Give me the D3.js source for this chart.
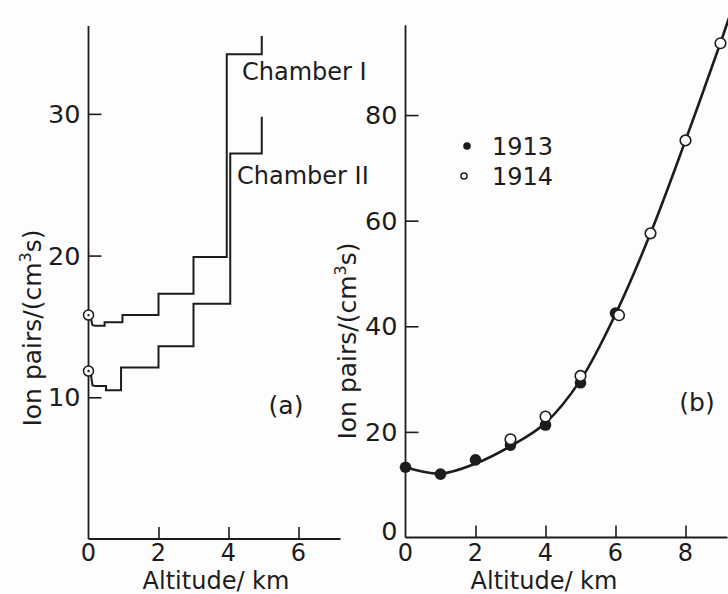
<!DOCTYPE html>
<html>
<head>
<meta charset="utf-8">
<script src="https://cdn.jsdelivr.net/npm/d3@7/dist/d3.min.js"></script>
<style>
  html, body { margin: 0; padding: 0; background: #fdfdfd; }
  svg { display: block; }
  text { font-family: "DejaVu Sans", sans-serif; fill: #1c1c1c; }
</style>
</head>
<body>
<svg id="chart" width="728" height="594"></svg>
<script>
// ---------- Data ----------
// Panel (a): step curves for the two ionisation chambers
const ticksA_y = [10, 20, 30];
const ticksA_x = [2, 4, 6];
const chamber1Start = 15.8;           // value at ground (circle marker)
const chamber1Edges = [0.2, 0.46, 0.97, 2, 3, 3.95, 4.95];
const chamber1Values = [15.05, 15.3, 15.8, 17.3, 19.9, 34.2];
const chamber1End = 35.5;
const chamber2Start = 11.85;
const chamber2Edges = [0.2, 0.5, 0.93, 2, 3, 4.05, 4.95];
const chamber2Values = [10.8, 10.5, 12.1, 13.6, 16.6, 27.2];
const chamber2End = 29.8;

// Panel (b): measured points and fitted curve
const ticksB_y = [20, 40, 60, 80];
const ticksB_x = [2, 4, 6, 8];
const alt1913 = [0, 1, 2, 3, 4, 5, 6];
const ion1913 = [13.3, 12.0, 14.7, 17.5, 21.3, 29.3, 42.5];
const alt1914 = [3, 4, 5, 6.1, 7, 8, 9];
const ion1914 = [18.6, 22.9, 30.6, 42.1, 57.6, 75.2, 93.6];
const curveAlt = [0, 1, 2, 3, 4, 5, 6, 7, 8, 9, 9.35];
const curveIon = [13.3, 12.1, 14.0, 17.3, 21.7, 29.8, 42.3, 57.6, 75.2, 93.7, 100.5];

// ---------- Drawing ----------
const svg = d3.select("#chart");
const ink = "#1c1c1c";

// Scales panel (a)
const xA = d3.scaleLinear().domain([0, 7.2]).range([88.5, 340.5]);
const yA = d3.scaleLinear().domain([0, 36.2]).range([539, 26]);
// Scales panel (b)
const xB = d3.scaleLinear().domain([0, 9.2]).range([405.5, 727.5]);
const yB = d3.scaleLinear().domain([0, 97]).range([537.5, 25.3]);

function drawAxes(g, x, y, yTicks, yTop, xEnd) {
  g.append("line").attr("x1", x(0)).attr("x2", x(0)).attr("y1", y(yTop)).attr("y2", y(0))
    .attr("stroke", ink).attr("stroke-width", 1.8);
  g.append("line").attr("x1", x(0)).attr("x2", x(xEnd)).attr("y1", y(0)).attr("y2", y(0))
    .attr("stroke", ink).attr("stroke-width", 1.8);
  const ya = d3.axisRight(y).tickValues(yTicks).tickSize(13).tickFormat("");
  const yg = g.append("g").attr("transform", `translate(${x(0)},0)`).call(ya);
  yg.select(".domain").remove();
  yg.selectAll(".tick line").attr("stroke", ink).attr("stroke-width", 1.6);
  yTicks.forEach(v => {
    g.append("text").attr("x", x(0) - 8).attr("y", y(v)).attr("dy", "0.36em")
      .attr("text-anchor", "end").attr("font-size", 25.5).text(v);
  });
}

function xAxisTicks(g, x, y, xTicks) {
  const xa = d3.axisTop(x).tickValues(xTicks).tickSize(12).tickFormat("");
  const xg = g.append("g").attr("transform", `translate(0,${y(0)})`).call(xa);
  xg.select(".domain").remove();
  xg.selectAll(".tick line").attr("stroke", ink).attr("stroke-width", 1.6);
  [0].concat(xTicks).forEach(v => {
    g.append("text").attr("x", x(v)).attr("y", 561)
      .attr("text-anchor", "middle").attr("font-size", 24).text(v);
  });
}

function yLabel(g, cx, cy) {
  const t = g.append("text").attr("transform", `translate(${cx},${cy}) rotate(-90)`)
    .attr("text-anchor", "middle").attr("font-size", 25);
  t.append("tspan").text("Ion pairs/(cm");
  t.append("tspan").attr("dy", -10).attr("font-size", 16).text("3");
  t.append("tspan").attr("dy", 10).text("s)");
}

// ----- Panel (a) -----
const gA = svg.append("g");
drawAxes(gA, xA, yA, ticksA_y, 36.2, 7.2);
xAxisTicks(gA, xA, yA, ticksA_x);
gA.append("text").attr("x", 216).attr("y", 589).attr("text-anchor", "middle")
  .attr("font-size", 24).text("Altitude/ km");
yLabel(gA, 41, 328);
gA.append("text").attr("x", 286).attr("y", 405).attr("dy", "0.36em")
  .attr("text-anchor", "middle").attr("font-size", 25).text("(a)");

function stepPath(start, edges, values, end) {
  const pts = [];
  pts.push([xA(0) + 2.5, yA(start) + 4]);
  pts.push([xA(edges[0]) - 3, yA(values[0]) - 0.5]);
  pts.push([xA(edges[0]), yA(values[0])]);
  for (let i = 0; i < values.length; i++) {
    pts.push([xA(edges[i + 1]), yA(values[i])]);
    const next = i + 1 < values.length ? values[i + 1] : end;
    pts.push([xA(edges[i + 1]), yA(next)]);
  }
  return d3.line().curve(d3.curveLinear)(pts);
}
[[chamber1Start, chamber1Edges, chamber1Values, chamber1End],
 [chamber2Start, chamber2Edges, chamber2Values, chamber2End]].forEach(([s, e, v, end]) => {
  gA.append("path").attr("d", stepPath(s, e, v, end)).attr("fill", "none")
    .attr("stroke", ink).attr("stroke-width", 2).attr("stroke-linejoin", "miter");
  gA.append("circle").attr("cx", xA(0)).attr("cy", yA(s)).attr("r", 5)
    .attr("fill", "#fdfdfd").attr("stroke", ink).attr("stroke-width", 1.5);
  gA.append("circle").attr("cx", xA(0)).attr("cy", yA(s)).attr("r", 1.2).attr("fill", ink);
});
gA.append("text").attr("x", 242).attr("y", 80).attr("font-size", 24).text("Chamber I");
gA.append("text").attr("x", 237).attr("y", 184).attr("font-size", 24).text("Chamber II");

// ----- Panel (b) -----
const gB = svg.append("g");
drawAxes(gB, xB, yB, ticksB_y, 97, 9.2);
gB.append("text").attr("x", xB(0) - 8).attr("y", yB(0) - 7).attr("dy", "0.36em")
  .attr("text-anchor", "end").attr("font-size", 25.5).text("0");
xAxisTicks(gB, xB, yB, ticksB_x);
gB.append("text").attr("x", 544).attr("y", 589).attr("text-anchor", "middle")
  .attr("font-size", 24).text("Altitude/ km");
yLabel(gB, 356, 341);
gB.append("text").attr("x", 697).attr("y", 402).attr("dy", "0.36em")
  .attr("text-anchor", "middle").attr("font-size", 25).text("(b)");

// fitted curve
const curvePts = curveAlt.map((a, i) => [xB(a), yB(curveIon[i])]);
gB.append("path").attr("d", d3.line().curve(d3.curveCatmullRom.alpha(0.5))(curvePts))
  .attr("fill", "none").attr("stroke", ink).attr("stroke-width", 2.6);

// points
alt1913.forEach((a, i) => {
  gB.append("circle").attr("cx", xB(a)).attr("cy", yB(ion1913[i])).attr("r", 5.8).attr("fill", ink);
});
alt1914.forEach((a, i) => {
  gB.append("circle").attr("cx", xB(a)).attr("cy", yB(ion1914[i])).attr("r", 5.3)
    .attr("fill", "#fdfdfd").attr("stroke", ink).attr("stroke-width", 1.6);
});

// legend
gB.append("circle").attr("cx", 467).attr("cy", 146).attr("r", 3.8).attr("fill", ink);
gB.append("text").attr("x", 492).attr("y", 146).attr("dy", "0.36em").attr("font-size", 24).text("1913");
gB.append("circle").attr("cx", 464).attr("cy", 176).attr("r", 3).attr("fill", "#fdfdfd")
  .attr("stroke", ink).attr("stroke-width", 1.4);
gB.append("text").attr("x", 492).attr("y", 176).attr("dy", "0.36em").attr("font-size", 24).text("1914");
</script>
</body>
</html>
